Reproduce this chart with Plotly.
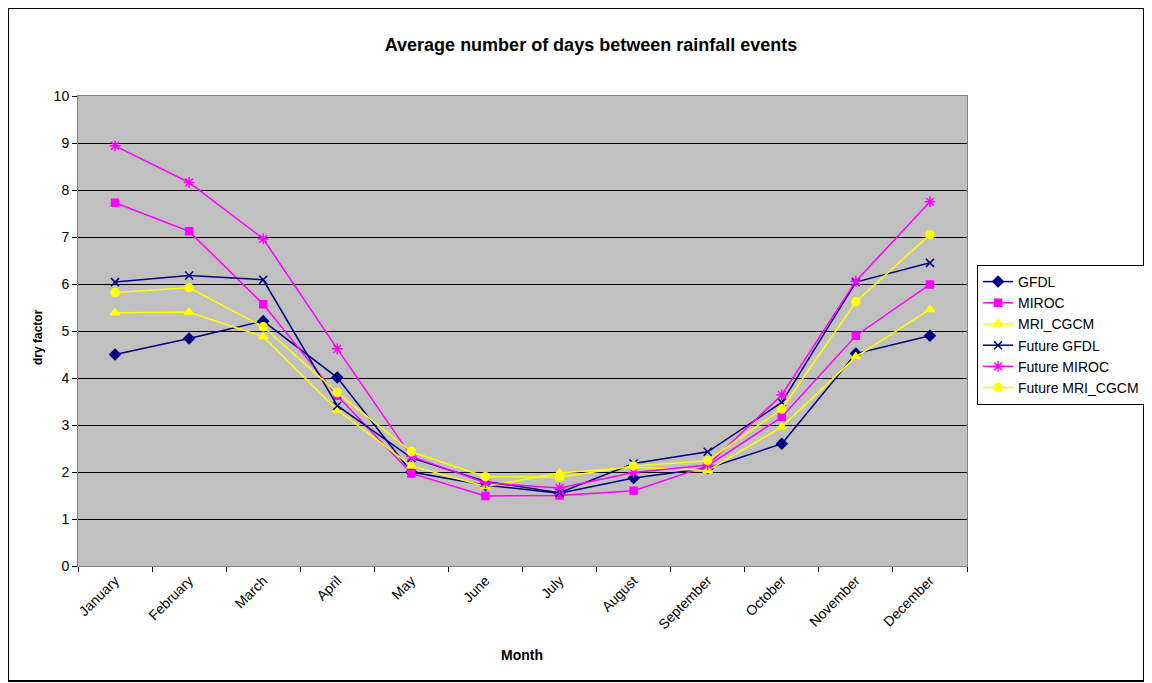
import plotly.graph_objects as go

months = ["January", "February", "March", "April", "May", "June", "July",
          "August", "September", "October", "November", "December"]
gfdl = [4.50, 4.84, 5.21, 4.01, 2.00, 1.72, 1.55, 1.87, 2.08, 2.60, 4.52, 4.90]
miroc = [7.73, 7.12, 5.57, 3.62, 1.97, 1.49, 1.50, 1.60, 2.13, 3.17, 4.90, 5.99]
mri = [5.39, 5.40, 4.88, 3.32, 2.13, 1.69, 1.98, 2.10, 2.03, 2.96, 4.45, 5.46]
f_gfdl = [6.04, 6.18, 6.09, 3.41, 2.30, 1.80, 1.56, 2.18, 2.43, 3.48, 6.04, 6.45]
f_miroc = [8.94, 8.16, 6.96, 4.62, 2.33, 1.77, 1.66, 1.99, 2.15, 3.64, 6.06, 7.75]
f_mri = [5.82, 5.92, 5.09, 3.69, 2.43, 1.90, 1.89, 2.13, 2.24, 3.34, 5.62, 7.05]

series = [
    ("GFDL", gfdl, "#000080", "diamond", 8),
    ("MIROC", miroc, "#FF00FF", "square", 7),
    ("MRI_CGCM", mri, "#FFFF00", "triangle-up", 8),
    ("Future GFDL", f_gfdl, "#000080", "x-thin", 8),
    ("Future MIROC", f_miroc, "#FF00FF", "asterisk", 9),
    ("Future MRI_CGCM", f_mri, "#FFFF00", "circle", 8),
]

fig = go.Figure()
for name, vals, color, sym, size in series:
    fig.add_trace(go.Scatter(
        x=months, y=vals, name=name, mode="lines+markers",
        line=dict(color=color, width=1.5),
        marker=dict(symbol=sym, size=size, color=color,
                    line=dict(color=color, width=1.5)),
    ))

# the page places the figure 8px from the top-left corner
OFF = 8
W, H = 1144, 675
L, R, T, B = 78 - OFF, 967 - OFF, 96 - OFF, 566 - OFF
pw, ph = R - L, B - T

def px(x):
    return (x - OFF - L) / pw

def py(y):
    return (B - (y - OFF)) / ph

FONT = "Liberation Sans, Arial, sans-serif"

fig.update_layout(
    width=W, height=H,
    margin=dict(l=L, r=W - R, t=T, b=H - B, autoexpand=False),
    paper_bgcolor="white",
    plot_bgcolor="#C0C0C0",
    font=dict(family=FONT, size=14, color="black"),
    title=dict(text="<b>Average number of days between rainfall events</b>",
               x=px(591), xref="paper", xanchor="center",
               y=1 - (45 - OFF) / H, yanchor="middle",
               font=dict(size=18)),
    showlegend=True,
    legend=dict(x=px(977), y=py(265), xanchor="left", yanchor="top",
                bgcolor="white", bordercolor="black", borderwidth=1,
                font=dict(size=14), tracegroupgap=0),
    xaxis=dict(
        type="category", tickangle=-45, tickson="boundaries",
        ticks="outside", ticklen=5, tickcolor="black",
        showgrid=False, showline=True, linecolor="#808080", linewidth=1,
        mirror=True, range=[-0.5, 11.5],
        tickfont=dict(size=14),
    ),
    yaxis=dict(
        range=[0, 10], dtick=1, tick0=0,
        ticks="outside", ticklen=5, tickcolor="black",
        showgrid=True, gridcolor="black", gridwidth=1,
        showline=True, linecolor="#808080", linewidth=1, mirror=True,
        zeroline=False,
        tickfont=dict(size=14),
    ),
    annotations=[
        dict(text="<b>Month</b>", xref="paper", yref="paper",
             x=px(522), y=py(655), xanchor="center", yanchor="middle",
             showarrow=False, font=dict(size=14)),
        dict(text="<b>dry factor</b>", xref="paper", yref="paper",
             x=px(38), y=py(337), xanchor="center", yanchor="middle",
             textangle=-90, showarrow=False, font=dict(size=12)),
    ],
    shapes=[dict(type="rect", xref="paper", yref="paper",
                 x0=px(8), x1=px(1144), y0=py(681), y1=py(8),
                 line=dict(color="black", width=2), fillcolor="rgba(0,0,0,0)",
                 layer="below")],
)

fig.write_html("out.html")
